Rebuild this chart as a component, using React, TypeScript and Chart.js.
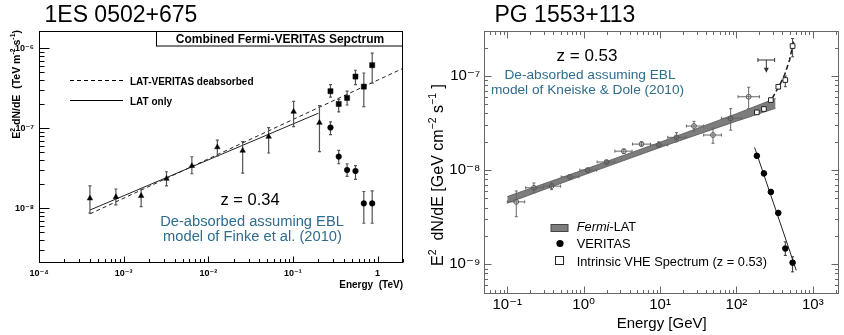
import React, { useEffect, useRef } from "react";
import { Chart, registerables } from "chart.js";
Chart.register(...registerables);

const FONT = "'Liberation Sans', Arial, Helvetica, 'DejaVu Sans', sans-serif";
const TEAL = "#2f6c8d";

// ---------------- Left panel: 1ES 0502+675 (E in TeV, E^2 dN/dE in TeV m^-2 s^-1) -------------
const latE = [4.0e-4, 8.1e-4, 1.61e-3, 3.21e-3, 6.4e-3, 0.0128, 0.0255, 0.0517, 0.102, 0.206];
const latF = [1.33e-8, 1.38e-8, 1.43e-8, 2.34e-8, 3.38e-8, 5.79e-8, 5.25e-8, 7.85e-8, 1.61e-7, 1.17e-7];
const latLo = [8.7e-9, 1.1e-8, 1.05e-8, 1.9e-8, 2.7e-8, 4.5e-8, 2.75e-8, 4.9e-8, 1.05e-7, 5.1e-8];
const latHi = [1.9e-8, 1.74e-8, 1.75e-8, 2.86e-8, 4.4e-8, 7.1e-8, 6.8e-8, 1.02e-7, 2.16e-7, 1.92e-7];

const vtsE = [0.278, 0.348, 0.437, 0.549, 0.689, 0.865];
const vtsDeabsF = [2.9e-7, 2.01e-7, 2.39e-7, 4.42e-7, 3.31e-7, 6.13e-7];
const vtsDeabsLo = [2.44e-7, 1.6e-7, 1.95e-7, 3.5e-7, 1.86e-7, 3.66e-7];
const vtsDeabsHi = [3.5e-7, 2.3e-7, 2.9e-7, 5.3e-7, 4.9e-7, 8.7e-7];
const vtsObsF = [1.02e-7, 4.42e-8, 3.01e-8, 2.92e-8, 1.15e-8, 1.15e-8];
const vtsObsLo = [8.3e-8, 3.6e-8, 2.5e-8, 2.3e-8, 6.5e-9, 6.5e-9];
const vtsObsHi = [1.2e-7, 5.3e-8, 3.6e-8, 3.4e-8, 1.62e-8, 1.65e-8];

const fitJointE = [4e-4, 2.0];
const fitJointF = [8.5e-9, 5.6e-7];
const fitLatE = [4e-4, 0.2];
const fitLatF = [9.5e-9, 1.54e-7];

// ---------------- Right panel: PG 1553+113 (E in GeV, E^2 dN/dE in GeV cm^-2 s^-1) -------------
const fermiE = [0.131, 0.223, 0.38, 0.66, 1.13, 1.99, 3.35, 5.71, 9.62, 16.4, 27.8, 49.3, 84, 144.5];
const fermiF = [4.6e-9, 6.49e-9, 6.76e-9, 8.49e-9, 1.0e-8, 1.22e-8, 1.59e-8, 1.89e-8, 1.85e-8, 2.23e-8, 2.94e-8, 2.36e-8, 3.55e-8, 6.02e-8];
const fermiELo = [0.1, 0.174, 0.296, 0.508, 0.89, 1.5, 2.56, 4.36, 7.5, 12.6, 22.1, 37.2, 63.5, 105];
const fermiEHi = [0.169, 0.293, 0.499, 0.865, 1.47, 2.54, 4.3, 7.5, 12.6, 21.7, 37.2, 63.5, 116, 200];
const fermiFLo = [3.2e-9, 5.75e-9, 6.2e-9, 8.1e-9, 9.5e-9, 1.15e-8, 1.5e-8, 1.8e-8, 1.77e-8, 2.0e-8, 2.6e-8, 1.93e-8, 2.66e-8, 4.5e-8];
const fermiFHi = [6.0e-9, 7.3e-9, 7.3e-9, 8.9e-9, 1.05e-8, 1.27e-8, 1.67e-8, 2.0e-8, 2.0e-8, 2.5e-8, 3.3e-8, 2.8e-8, 4.5e-8, 7.6e-8];

const ulE = [246];
const ulF = [1.48e-7];
const ulELo = [191];
const ulEHi = [316];
const ulArrowTo = [1.11e-7];

const bandE = [0.1, 1, 10, 100, 325];
const bandHi = [5.24e-9, 1.01e-8, 1.98e-8, 3.98e-8, 5.79e-8];
const bandLo = [4.46e-9, 8.87e-9, 1.74e-8, 3.31e-8, 4.54e-8];

const vheE = [185, 229, 282, 353, 436, 543];
const intrF = [4.11e-8, 4.46e-8, 5.55e-8, 7.69e-8, 9.06e-8, 2.08e-7];
const intrLo = [3.95e-8, 4.3e-8, 5.3e-8, 7.3e-8, 7.7e-8, 1.6e-7];
const intrHi = [4.3e-8, 4.65e-8, 5.8e-8, 8.1e-8, 1.0e-7, 2.5e-7];
const intrCurveE = [294, 367, 427, 496, 565];
const intrCurveF = [5.8e-8, 8.0e-8, 1.03e-7, 1.48e-7, 2.42e-7];

const vtsF2 = [1.42e-8, 9.23e-9, 5.87e-9, 3.51e-9, 1.47e-9, 1.04e-9];
const vtsLo2 = [1.37e-8, 8.9e-9, 5.65e-9, 3.35e-9, 1.24e-9, 8.3e-10];
const vtsHi2 = [1.47e-8, 9.55e-9, 6.1e-9, 3.68e-9, 1.73e-9, 1.2e-9];
const vtsFitE = [173, 607];
const vtsFitF = [1.74e-8, 8.6e-10];

// ---------------- helpers -------------
const pts = (xs: number[], ys: number[]) => xs.map((x, i) => ({ x, y: ys[i] }));

function logTicks(min: number, max: number): number[] {
  const out: number[] = [];
  for (let e = Math.floor(Math.log10(min)); e <= Math.ceil(Math.log10(max)); e++) {
    for (let m = 1; m <= 9; m++) {
      const v = parseFloat((m * Math.pow(10, e)).toPrecision(10));
      if (v >= min * 0.999999 && v <= max * 1.000001) out.push(v);
    }
  }
  return out;
}
const SUP: Record<string, string> = { "-": "⁻", "0": "⁰", "1": "¹", "2": "²", "3": "³", "4": "⁴", "5": "⁵", "6": "⁶", "7": "⁷", "8": "⁸", "9": "⁹" };
function isDecade(v: number) {
  const l = Math.log10(v);
  return Math.abs(l - Math.round(l)) < 1e-6;
}
function decadeLabel(v: number, oneAsOne: boolean) {
  const e = Math.round(Math.log10(v));
  if (oneAsOne && e === 0) return "1";
  return "10" + String(e).split("").map((c) => SUP[c]).join("");
}

type Seg = { t: string; sup?: boolean; italic?: boolean };
function drawRich(ctx: CanvasRenderingContext2D, segs: Seg[], x: number, y: number, align: string, size: number, weight: string, color: string) {
  const f = (s: Seg) => `${s.italic ? "italic " : ""}${weight} ${s.sup ? size * 0.66 : size}px ${FONT}`;
  let w = 0;
  const widths = segs.map((s) => {
    ctx.font = f(s);
    const m = ctx.measureText(s.t).width;
    w += m;
    return m;
  });
  let cx = align === "left" ? x : align === "center" ? x - w / 2 : x - w;
  ctx.textAlign = "left";
  ctx.textBaseline = "alphabetic";
  ctx.fillStyle = color;
  segs.forEach((s, i) => {
    ctx.font = f(s);
    ctx.fillText(s.t, cx, s.sup ? y - size * 0.42 : y);
    cx += widths[i];
  });
}

function text(ctx: CanvasRenderingContext2D, t: string, x: number, y: number, font: string, color: string, align: CanvasTextAlign) {
  ctx.font = font;
  ctx.fillStyle = color;
  ctx.textAlign = align;
  ctx.textBaseline = "alphabetic";
  ctx.fillText(t, x, y);
}

const errorBarPlugin = {
  id: "errorBars",
  beforeDatasetDraw(chart: any, args: any) {
    const ds: any = chart.data.datasets[args.index];
    const eb = ds.errorBars;
    const ul = ds.upperLimit;
    if (!eb && !ul) return;
    const { ctx, chartArea: a } = chart;
    const xs = chart.scales.x;
    const ys = chart.scales.y;
    ctx.save();
    ctx.beginPath();
    ctx.rect(a.left, a.top, a.right - a.left, a.bottom - a.top);
    ctx.clip();
    ctx.setLineDash([]);
    if (eb) {
      ctx.strokeStyle = eb.color;
      ctx.lineWidth = eb.width;
      ctx.beginPath();
      ds.data.forEach((p: any, i: number) => {
        const px = xs.getPixelForValue(p.x);
        const py = ys.getPixelForValue(p.y);
        if (eb.yLo) {
          const y1 = ys.getPixelForValue(eb.yLo[i]);
          const y2 = ys.getPixelForValue(eb.yHi[i]);
          ctx.moveTo(px, y1);
          ctx.lineTo(px, y2);
          if (eb.cap) {
            ctx.moveTo(px - eb.cap, y1);
            ctx.lineTo(px + eb.cap, y1);
            ctx.moveTo(px - eb.cap, y2);
            ctx.lineTo(px + eb.cap, y2);
          }
        }
        if (eb.xLo) {
          const x1 = xs.getPixelForValue(eb.xLo[i]);
          const x2 = xs.getPixelForValue(eb.xHi[i]);
          ctx.moveTo(x1, py);
          ctx.lineTo(x2, py);
          if (eb.xcap) {
            ctx.moveTo(x1, py - eb.xcap);
            ctx.lineTo(x1, py + eb.xcap);
            ctx.moveTo(x2, py - eb.xcap);
            ctx.lineTo(x2, py + eb.xcap);
          }
        }
      });
      ctx.stroke();
    }
    if (ul) {
      ctx.strokeStyle = ul.color;
      ctx.fillStyle = ul.color;
      ctx.lineWidth = 1;
      ds.data.forEach((p: any, i: number) => {
        const px = xs.getPixelForValue(p.x);
        const py = ys.getPixelForValue(p.y);
        const x1 = xs.getPixelForValue(ul.xLo[i]);
        const x2 = xs.getPixelForValue(ul.xHi[i]);
        const ya = ys.getPixelForValue(ul.to[i]);
        ctx.beginPath();
        ctx.moveTo(x1, py);
        ctx.lineTo(x2, py);
        ctx.moveTo(x1, py - 2);
        ctx.lineTo(x1, py + 2);
        ctx.moveTo(x2, py - 2);
        ctx.lineTo(x2, py + 2);
        ctx.moveTo(px, py);
        ctx.lineTo(px, ya - 3);
        ctx.stroke();
        ctx.beginPath();
        ctx.moveTo(px - 2.5, ya - 4);
        ctx.lineTo(px + 2.5, ya - 4);
        ctx.lineTo(px, ya + 1);
        ctx.closePath();
        ctx.fill();
      });
    }
    ctx.restore();
  },
};

function makeFramePlugin(cfg: any) {
  return {
    id: "rootFrame",
    afterDatasetsDraw(chart: any) {
      const { ctx, chartArea: a } = chart;
      const xs = chart.scales.x;
      const ys = chart.scales.y;
      const L = Math.round(a.left) + 0.5;
      const R = Math.round(a.right) - 0.5;
      const T = Math.round(a.top) + 0.5;
      const B = Math.round(a.bottom) - 0.5;
      ctx.save();
      ctx.setLineDash([]);
      ctx.strokeStyle = cfg.color;
      ctx.lineWidth = 1;
      ctx.beginPath();
      xs.ticks.forEach((t: any) => {
        const px = Math.round(xs.getPixelForValue(t.value)) + 0.5;
        const len = isDecade(t.value) ? cfg.xMajor : cfg.xMinor;
        ctx.moveTo(px, B);
        ctx.lineTo(px, B - len);
        if (cfg.mirror) {
          ctx.moveTo(px, T);
          ctx.lineTo(px, T + len);
        }
      });
      ys.ticks.forEach((t: any) => {
        const py = Math.round(ys.getPixelForValue(t.value)) + 0.5;
        const len = isDecade(t.value) ? cfg.yMajor : cfg.yMinor;
        ctx.moveTo(L, py);
        ctx.lineTo(L + len, py);
        if (cfg.mirror) {
          ctx.moveTo(R, py);
          ctx.lineTo(R - len, py);
        }
      });
      ctx.stroke();
      ctx.lineWidth = cfg.frameWidth;
      ctx.strokeRect(L, T, R - L, B - T);
      ctx.restore();
    },
  };
}

function logScale(min: number, max: number, boxSize: number, isX: boolean, font: any, padding: number, oneAsOne: boolean) {
  return {
    type: "logarithmic",
    min,
    max,
    grid: { display: false, drawTicks: false },
    border: { display: false },
    afterBuildTicks: (s: any) => {
      s.ticks = logTicks(min, max).map((v) => ({ value: v }));
    },
    afterFit: (s: any) => {
      if (isX) s.height = boxSize;
      else s.width = boxSize;
    },
    ticks: {
      autoSkip: false,
      maxRotation: 0,
      minRotation: 0,
      padding,
      color: "#000",
      font,
      callback: (v: any) => (isDecade(Number(v)) ? decadeLabel(Number(v), oneAsOne) : ""),
    },
  };
}

// ---------------- Left chart -------------
const leftDecor = {
  id: "leftDecor",
  afterDraw(chart: any) {
    const ctx: CanvasRenderingContext2D = chart.ctx;
    ctx.save();
    text(ctx, "1ES 0502+675", 44.5, 21.5, `23px ${FONT}`, "#000", "left");
    // title box
    ctx.fillStyle = "#fff";
    ctx.fillRect(156.5, 31.5, 246, 14.5);
    ctx.strokeStyle = "#000";
    ctx.lineWidth = 1;
    ctx.strokeRect(156.5, 31.5, 246, 14.5);
    text(ctx, "Combined Fermi-VERITAS Sepctrum", 280, 43, `bold 12px ${FONT}`, "#000", "center");
    // legend
    ctx.strokeStyle = "#000";
    ctx.lineWidth = 1;
    ctx.setLineDash([4, 3]);
    ctx.beginPath();
    ctx.moveTo(70, 80.5);
    ctx.lineTo(123, 80.5);
    ctx.stroke();
    ctx.setLineDash([]);
    ctx.beginPath();
    ctx.moveTo(70, 100.5);
    ctx.lineTo(123, 100.5);
    ctx.stroke();
    text(ctx, "LAT-VERITAS deabsorbed", 130, 84.5, `bold 10px ${FONT}`, "#000", "left");
    text(ctx, "LAT only", 130, 104.5, `bold 10px ${FONT}`, "#000", "left");
    // annotations
    text(ctx, "z = 0.34", 250, 205, `16.5px ${FONT}`, "#000", "center");
    text(ctx, "De-absorbed assuming EBL", 252, 226, `14.7px ${FONT}`, TEAL, "center");
    text(ctx, "model of Finke et al. (2010)", 252.5, 240.5, `14.7px ${FONT}`, TEAL, "center");
    // axis titles
    text(ctx, "Energy  (TeV)", 403, 288, `bold 10px ${FONT}`, "#000", "right");
    ctx.translate(19.5, 30);
    ctx.rotate(-Math.PI / 2);
    drawRich(
      ctx,
      [{ t: "E" }, { t: "2", sup: true }, { t: " dN/dE  (TeV m" }, { t: "-2", sup: true }, { t: " s" }, { t: "-1", sup: true }, { t: ")" }],
      0, 0, "right", 10.5, "bold", "#000"
    );
    ctx.restore();
  },
};

function leftConfig(): any {
  const mk = { pointBorderWidth: 0.5, pointBorderColor: "#000", pointBackgroundColor: "#000", showLine: false, order: 1 };
  return {
    type: "line",
    data: {
      datasets: [
        {
          label: "LAT",
          data: pts(latE, latF),
          pointStyle: "triangle",
          pointRadius: 3.2,
          ...mk,
          errorBars: { yLo: latLo, yHi: latHi, color: "#555", width: 1.2, cap: 1.5 },
        },
        {
          label: "VERITAS deabsorbed",
          data: pts(vtsE, vtsDeabsF),
          pointStyle: "rect",
          pointRadius: 3.6,
          ...mk,
          errorBars: { yLo: vtsDeabsLo, yHi: vtsDeabsHi, color: "#555", width: 1.2, cap: 1.5 },
        },
        {
          label: "VERITAS observed",
          data: pts(vtsE, vtsObsF),
          pointStyle: "circle",
          pointRadius: 2.8,
          ...mk,
          errorBars: { yLo: vtsObsLo, yHi: vtsObsHi, color: "#555", width: 1.2, cap: 1.5 },
        },
        {
          label: "LAT-VERITAS deabsorbed",
          data: pts(fitJointE, fitJointF),
          borderColor: "#222",
          borderWidth: 1,
          borderDash: [4, 3],
          pointRadius: 0,
          fill: false,
          order: 5,
        },
        {
          label: "LAT only",
          data: pts(fitLatE, fitLatF),
          borderColor: "#222",
          borderWidth: 1,
          pointRadius: 0,
          fill: false,
          order: 5,
        },
      ],
    },
    options: {
      responsive: false,
      animation: false,
      events: [],
      layout: { padding: { left: 0, right: 17, top: 31, bottom: 0 } },
      plugins: { legend: { display: false }, tooltip: { enabled: false }, title: { display: false } },
      scales: {
        x: logScale(1e-4, 2, 72, true, { family: FONT, size: 9, weight: "bold" }, 5, true),
        y: logScale(2.07e-9, 1.64e-6, 39, false, { family: FONT, size: 9, weight: "bold" }, 5, false),
      },
    },
    plugins: [errorBarPlugin, makeFramePlugin({ color: "#000", frameWidth: 1, xMajor: 6, xMinor: 3.5, yMajor: 10, yMinor: 5, mirror: false }), leftDecor],
  };
}

// ---------------- Right chart -------------
const rightDecor = {
  id: "rightDecor",
  afterDraw(chart: any) {
    const ctx: CanvasRenderingContext2D = chart.ctx;
    ctx.save();
    text(ctx, "PG 1553+113", 74.5, 21.5, `23px ${FONT}`, "#000", "left");
    text(ctx, "z = 0.53", 167, 61, `17px ${FONT}`, "#000", "center");
    text(ctx, "De-absorbed assuming EBL", 170, 78.5, `13.7px ${FONT}`, TEAL, "center");
    text(ctx, "model of Kneiske & Dole (2010)", 167.5, 93.5, `13.7px ${FONT}`, TEAL, "center");
    // legend
    ctx.fillStyle = "#7d7d7d";
    ctx.fillRect(131, 224.5, 17, 7);
    ctx.strokeStyle = "#444";
    ctx.lineWidth = 1;
    ctx.strokeRect(131, 224.5, 17, 7);
    drawRich(ctx, [{ t: "Fermi", italic: true }, { t: "-LAT" }], 156.7, 231, "left", 12.8, "normal", "#000");
    ctx.fillStyle = "#000";
    ctx.beginPath();
    ctx.arc(140, 243.5, 3.6, 0, Math.PI * 2);
    ctx.fill();
    text(ctx, "VERITAS", 156.7, 248, `12.8px ${FONT}`, "#000", "left");
    ctx.strokeStyle = "#222";
    ctx.strokeRect(135.5, 256.5, 8, 8);
    text(ctx, "Intrinsic VHE Spectrum (z = 0.53)", 156.7, 265.5, `12.8px ${FONT}`, "#000", "left");
    // axis titles
    text(ctx, "Energy [GeV]", 241.7, 327.5, `15px ${FONT}`, "#000", "center");
    ctx.translate(22.5, 175);
    ctx.rotate(-Math.PI / 2);
    drawRich(
      ctx,
      [{ t: "E" }, { t: "2", sup: true }, { t: "  dN/dE [GeV cm" }, { t: "−2", sup: true }, { t: " s" }, { t: "−1", sup: true }, { t: " ]" }],
      0, 0, "center", 16, "normal", "#000"
    );
    ctx.restore();
  },
};

function rightConfig(): any {
  return {
    type: "line",
    data: {
      datasets: [
        {
          label: "VERITAS",
          data: pts(vheE, vtsF2),
          showLine: false,
          pointStyle: "circle",
          pointRadius: 2.8,
          pointBackgroundColor: "#000",
          pointBorderColor: "#000",
          order: 1,
          errorBars: { yLo: vtsLo2, yHi: vtsHi2, color: "#333", width: 1, cap: 1.5 },
        },
        {
          label: "Intrinsic VHE Spectrum (z = 0.53)",
          data: pts(vheE, intrF),
          showLine: false,
          pointStyle: "rect",
          pointRadius: 3.3,
          pointBackgroundColor: "#fff",
          pointBorderColor: "#222",
          pointBorderWidth: 1,
          order: 1,
          errorBars: { yLo: intrLo, yHi: intrHi, color: "#444", width: 1, cap: 1.5 },
        },
        {
          label: "Fermi-LAT points",
          data: pts(fermiE, fermiF),
          showLine: false,
          pointStyle: "circle",
          pointRadius: 2.4,
          pointBackgroundColor: "rgba(255,255,255,0)",
          pointBorderColor: "#555",
          pointBorderWidth: 1,
          order: 2,
          errorBars: { yLo: fermiFLo, yHi: fermiFHi, xLo: fermiELo, xHi: fermiEHi, color: "#666", width: 1, cap: 1.5, xcap: 1.5 },
        },
        {
          label: "Fermi-LAT upper limit",
          data: pts(ulE, ulF),
          showLine: false,
          pointRadius: 0,
          order: 2,
          upperLimit: { xLo: ulELo, xHi: ulEHi, to: ulArrowTo, color: "#333" },
        },
        {
          label: "Intrinsic curve",
          data: pts(intrCurveE, intrCurveF),
          borderColor: "#222",
          borderWidth: 1.6,
          borderDash: [5, 3],
          pointRadius: 0,
          fill: false,
          order: 4,
        },
        {
          label: "VERITAS fit",
          data: pts(vtsFitE, vtsFitF),
          borderColor: "#222",
          borderWidth: 1,
          pointRadius: 0,
          fill: false,
          order: 4,
        },
        {
          label: "Fermi-LAT band upper",
          data: pts(bandE, bandHi),
          borderColor: "#555",
          borderWidth: 0.8,
          pointRadius: 0,
          fill: false,
          order: 9,
        },
        {
          label: "Fermi-LAT band lower",
          data: pts(bandE, bandLo),
          borderColor: "#555",
          borderWidth: 0.8,
          backgroundColor: "#7d7d7d",
          pointRadius: 0,
          fill: "-1",
          order: 9,
        },
      ],
    },
    options: {
      responsive: false,
      animation: false,
      events: [],
      layout: { padding: { left: 0, right: 4.7, top: 30.7, bottom: 0 } },
      plugins: { legend: { display: false }, tooltip: { enabled: false }, title: { display: false } },
      scales: {
        x: logScale(0.05, 2200, 41, true, { family: FONT, size: 15 }, 2, false),
        y: logScale(4.83e-10, 3.03e-7, 64.3, false, { family: FONT, size: 15 }, 4, false),
      },
    },
    plugins: [errorBarPlugin, makeFramePlugin({ color: "#666", frameWidth: 1, xMajor: 7, xMinor: 3.5, yMajor: 7, yMinor: 3.5, mirror: true }), rightDecor],
  };
}

function ChartCanvas(props: { left: number; width: number; height: number; config: () => any }) {
  const ref = useRef<HTMLCanvasElement>(null);
  useEffect(() => {
    const chart = new Chart(ref.current as HTMLCanvasElement, props.config());
    return () => chart.destroy();
  }, []);
  return (
    <canvas
      ref={ref}
      width={props.width}
      height={props.height}
      style={{ position: "absolute", left: props.left, top: 0, width: props.width, height: props.height }}
    />
  );
}

export default function App() {
  return (
    <div style={{ position: "absolute", left: 0, top: 0, width: 844, height: 335, background: "#fff", overflow: "hidden" }}>
      <ChartCanvas left={0} width={420} height={335} config={leftConfig} />
      <ChartCanvas left={420} width={424} height={335} config={rightConfig} />
    </div>
  );
}
